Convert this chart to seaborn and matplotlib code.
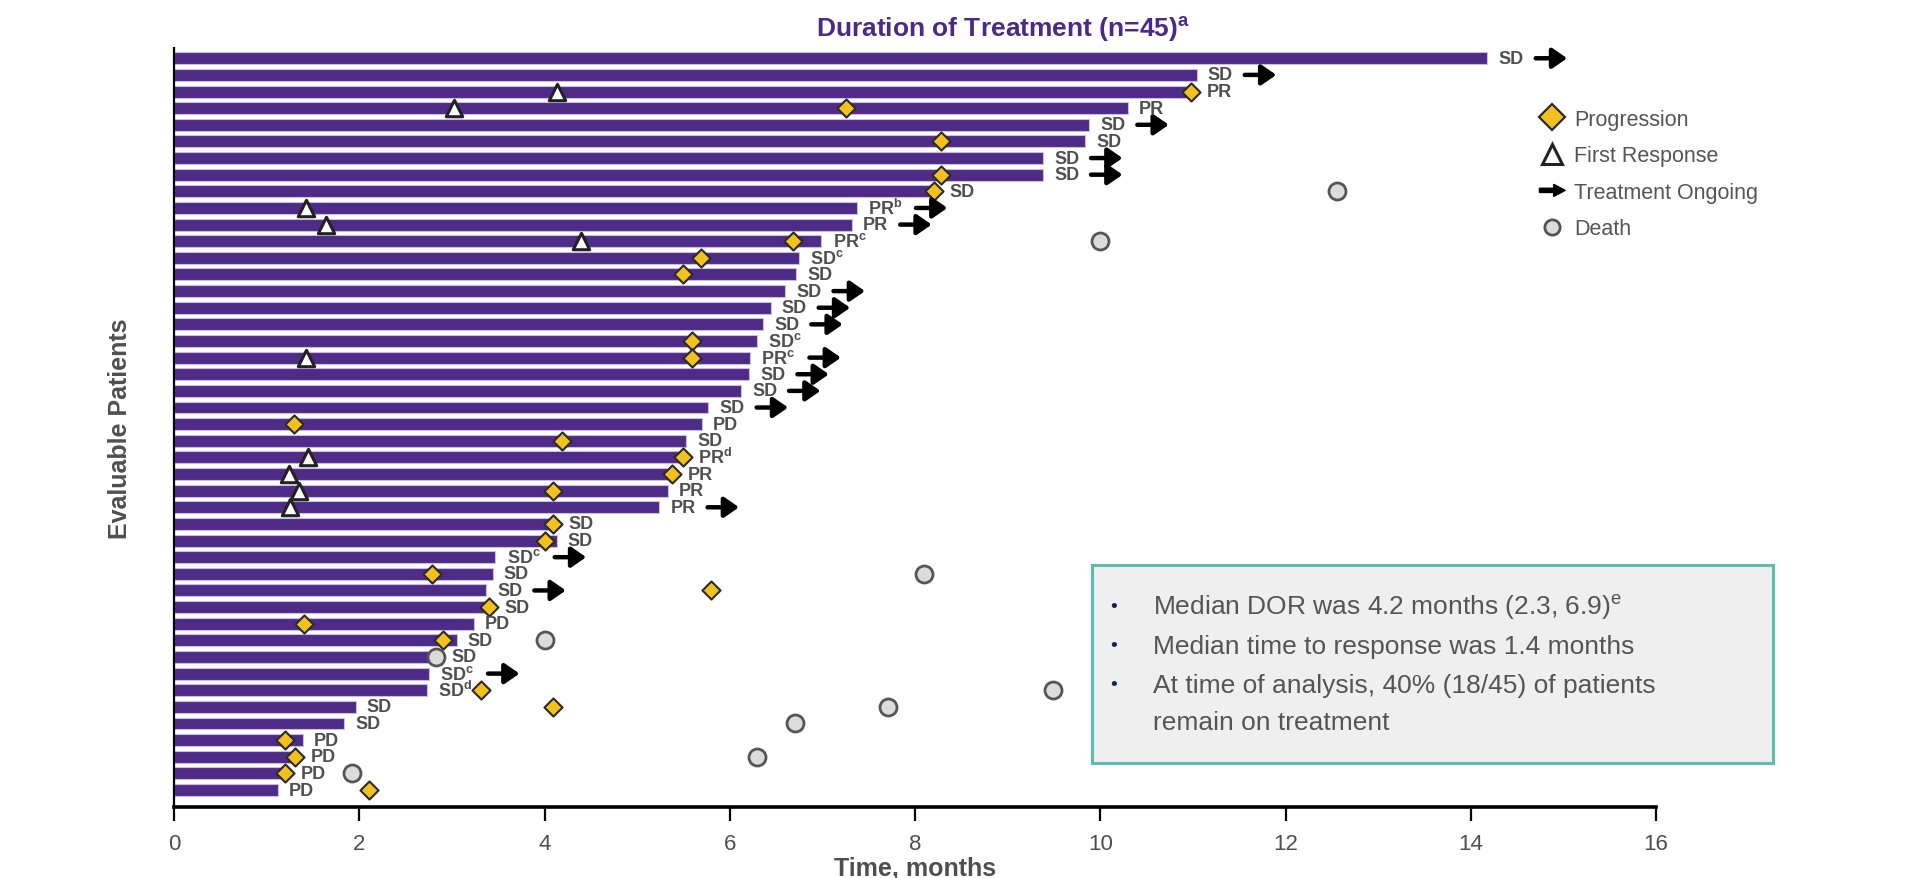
import matplotlib
matplotlib.use("Agg")
import matplotlib.pyplot as plt
import seaborn as sns
import pandas as pd
from matplotlib.lines import Line2D
from matplotlib.patches import FancyArrow, Rectangle
from matplotlib.legend_handler import HandlerPatch

# ---------------- data ----------------
patients = [f"P{i}" for i in range(1, 46)]
durations = [14.18, 11.04, 11.00, 10.30, 9.88, 9.84, 9.38, 9.38, 8.20, 7.37,
             7.32, 6.99, 6.75, 6.72, 6.60, 6.44, 6.36, 6.29, 6.22, 6.21,
             6.12, 5.77, 5.70, 5.53, 5.50, 5.38, 5.33, 5.24, 4.13, 4.13,
             3.47, 3.44, 3.37, 3.36, 3.24, 3.05, 2.76, 2.75, 2.73, 1.96,
             1.84, 1.39, 1.33, 1.20, 1.12]
responses = ["SD", "SD", "PR", "PR", "SD", "SD", "SD", "SD", "SD", "PR",
             "PR", "PR", "SD", "SD", "SD", "SD", "SD", "SD", "PR", "SD",
             "SD", "SD", "PD", "SD", "PR", "PR", "PR", "PR", "SD", "SD",
             "SD", "SD", "SD", "SD", "PD", "SD", "SD", "SD", "SD", "SD",
             "SD", "PD", "PD", "PD", "PD"]
footnotes = ["", "", "", "", "", "", "", "", "", "b",
             "", "c", "c", "", "", "", "", "c", "c", "",
             "", "", "", "", "d", "", "", "", "", "",
             "c", "", "", "", "", "", "", "c", "d", "",
             "", "", "", "", ""]
ongoing_rows = [1, 2, 5, 7, 8, 10, 11, 15, 16, 17, 19, 20, 21, 22, 28, 31, 33, 38]

prog_rows = [3, 4, 6, 8, 9, 12, 13, 14, 18, 19, 23, 24, 25, 26, 27, 29, 30,
             32, 33, 34, 35, 36, 39, 40, 42, 43, 44, 45]
prog_months = [10.98, 7.26, 8.28, 8.28, 8.20, 6.68, 5.69, 5.49, 5.59, 5.59,
               1.30, 4.19, 5.49, 5.38, 4.09, 4.09, 4.00, 2.79, 5.80, 3.40,
               1.40, 2.90, 3.31, 4.09, 1.20, 1.31, 1.20, 2.10]

resp_rows = [3, 4, 10, 11, 12, 19, 25, 26, 27, 28]
resp_months = [4.13, 3.02, 1.43, 1.64, 4.39, 1.43, 1.45, 1.24, 1.35, 1.25]

death_rows = [9, 12, 32, 36, 37, 39, 40, 41, 43, 44]
death_months = [12.56, 10.00, 8.10, 4.01, 2.83, 9.49, 7.71, 6.70, 6.29, 1.92]

x_ticks = [0, 2, 4, 6, 8, 10, 12, 14, 16]
legend_labels = ["Progression", "First Response", "Treatment Ongoing", "Death"]
box_lines = ["Median DOR was 4.2 months (2.3, 6.9)$^{\\mathregular{e}}$",
             "Median time to response was 1.4 months",
             "At time of analysis, 40% (18/45) of patients",
             "remain on treatment"]
title_text = "Duration of Treatment (n=45)$^{\\mathregular{a}}$"

# ---------------- style ----------------
BAR = "#4E2B86"
YEL = "#F2C11D"
GREY_TXT = "#4F4F4F"
FONT = ["Liberation Sans", "DejaVu Sans"]

sns.set_theme(style="white")
plt.rcParams["font.family"] = FONT

df = pd.DataFrame({"patient": patients, "months": durations})

fig = plt.figure(figsize=(19.29, 8.79), dpi=100)
ax = fig.add_axes([0.0902, 0.0808, 0.7683, 0.8635])

sns.barplot(data=df, x="months", y="patient", orient="h", color=BAR,
            saturation=1, width=0.72, edgecolor="#CBBDE2", linewidth=0.8, ax=ax)

sns.scatterplot(x=prog_months, y=[r - 1 for r in prog_rows], marker="D", s=85,
                color=YEL, edgecolor="#2B2B2B", linewidth=1.5, ax=ax, zorder=6)
sns.scatterplot(x=resp_months, y=[r - 1 for r in resp_rows], marker="^", s=140,
                color="white", edgecolor="#222222", linewidth=2.2, ax=ax, zorder=6)
sns.scatterplot(x=death_months, y=[r - 1 for r in death_rows], marker="o", s=150,
                color="#DCDCDC", edgecolor="#555555", linewidth=2.0, ax=ax, zorder=6)

# response labels and ongoing arrows
row_marks = {}
for r, m in zip(prog_rows + resp_rows + death_rows, prog_months + resp_months + death_months):
    row_marks.setdefault(r, []).append(m)

for i, (end, lab, fn) in enumerate(zip(durations, responses, footnotes)):
    row = i + 1
    near = [m for m in row_marks.get(row, []) if end - 0.15 <= m <= end + 0.35]
    anchor = max([end] + [m + 0.05 for m in near])
    lx = anchor + 0.12
    txt = lab + (f"$^{{\\mathregular{{{fn}}}}}$" if fn else "")
    ax.text(lx, i, txt, ha="left", va="center", fontsize=13, fontweight="bold",
            color=GREY_TXT, zorder=7)
    if row in ongoing_rows:
        x0 = lx + (0.52 if fn else 0.4)
        ax.annotate("", xy=(x0 + 0.34, i), xytext=(x0, i),
                    arrowprops=dict(arrowstyle="-|>,head_length=0.55,head_width=0.38",
                                    color="black", lw=3.2, shrinkA=0, shrinkB=0,
                                    mutation_scale=16), zorder=7)

# axes styling
ax.set_xlim(0, 16)
ax.set_ylim(len(patients) - 1 + 1.02, -0.62)
ax.set_xticks(x_ticks)
ax.set_xticklabels([str(t) for t in x_ticks])
ax.set_yticks([])
ax.tick_params(axis="x", direction="out", length=10, width=1.6, color="black",
               labelsize=16, labelcolor=GREY_TXT, pad=9, bottom=True)
for s in ["top", "right"]:
    ax.spines[s].set_visible(False)
for s in ["left", "bottom"]:
    ax.spines[s].set_color("black")
ax.spines["left"].set_linewidth(1.6)
ax.spines["bottom"].set_linewidth(2.6)
ax.set_xlabel("Time, months", fontsize=18, fontweight="bold", color=GREY_TXT,
              labelpad=1)
ax.set_ylabel("Evaluable Patients", fontsize=18, fontweight="bold", color=GREY_TXT,
              labelpad=30)

fig.text(0.52, 0.967, title_text, ha="center", va="center", fontsize=19,
         fontweight="bold", color="#4A2A84")

# legend
def arrow_patch(legend, orig_handle, xdescent, ydescent, width, height, fontsize):
    return FancyArrow(-xdescent, height / 2 - ydescent, width, 0,
                      width=height * 0.28, head_width=height * 0.8,
                      head_length=width * 0.45, length_includes_head=True,
                      color="black")

handles = [
    Line2D([], [], marker="D", linestyle="none", markersize=13,
           markerfacecolor=YEL, markeredgecolor="#2B2B2B", markeredgewidth=1.6),
    Line2D([], [], marker="^", linestyle="none", markersize=14,
           markerfacecolor="white", markeredgecolor="#222222", markeredgewidth=2.2),
    FancyArrow(0, 0, 1, 0, color="black"),
    Line2D([], [], marker="o", linestyle="none", markersize=11,
           markerfacecolor="#DCDCDC", markeredgecolor="#555555", markeredgewidth=2.0),
]
fig.legend(handles, legend_labels, loc="upper left", bbox_to_anchor=(0.788, 0.897),
           frameon=False, fontsize=15.5, handlelength=1.2, handletextpad=0.42,
           labelspacing=0.72, labelcolor="#555555",
           handler_map={FancyArrow: HandlerPatch(patch_func=arrow_patch)})

# summary box
fig.add_artist(Rectangle((0.566, 0.131), 0.353, 0.225, transform=fig.transFigure,
                         facecolor="#EFEFEF", edgecolor="#5DBDB3", linewidth=2.2,
                         zorder=1))
line_y = [0.309, 0.264, 0.220, 0.178]
for k, (t, yy) in enumerate(zip(box_lines, line_y)):
    if k < 3:
        fig.text(0.5755, yy, "\u2022", ha="left", va="center", fontsize=14,
                 color="#1E1B5E", zorder=2)
    fig.text(0.5977, yy, t, ha="left", va="center", fontsize=19,
             color="#555555", zorder=2)

fig.savefig("out.png", dpi=100)
